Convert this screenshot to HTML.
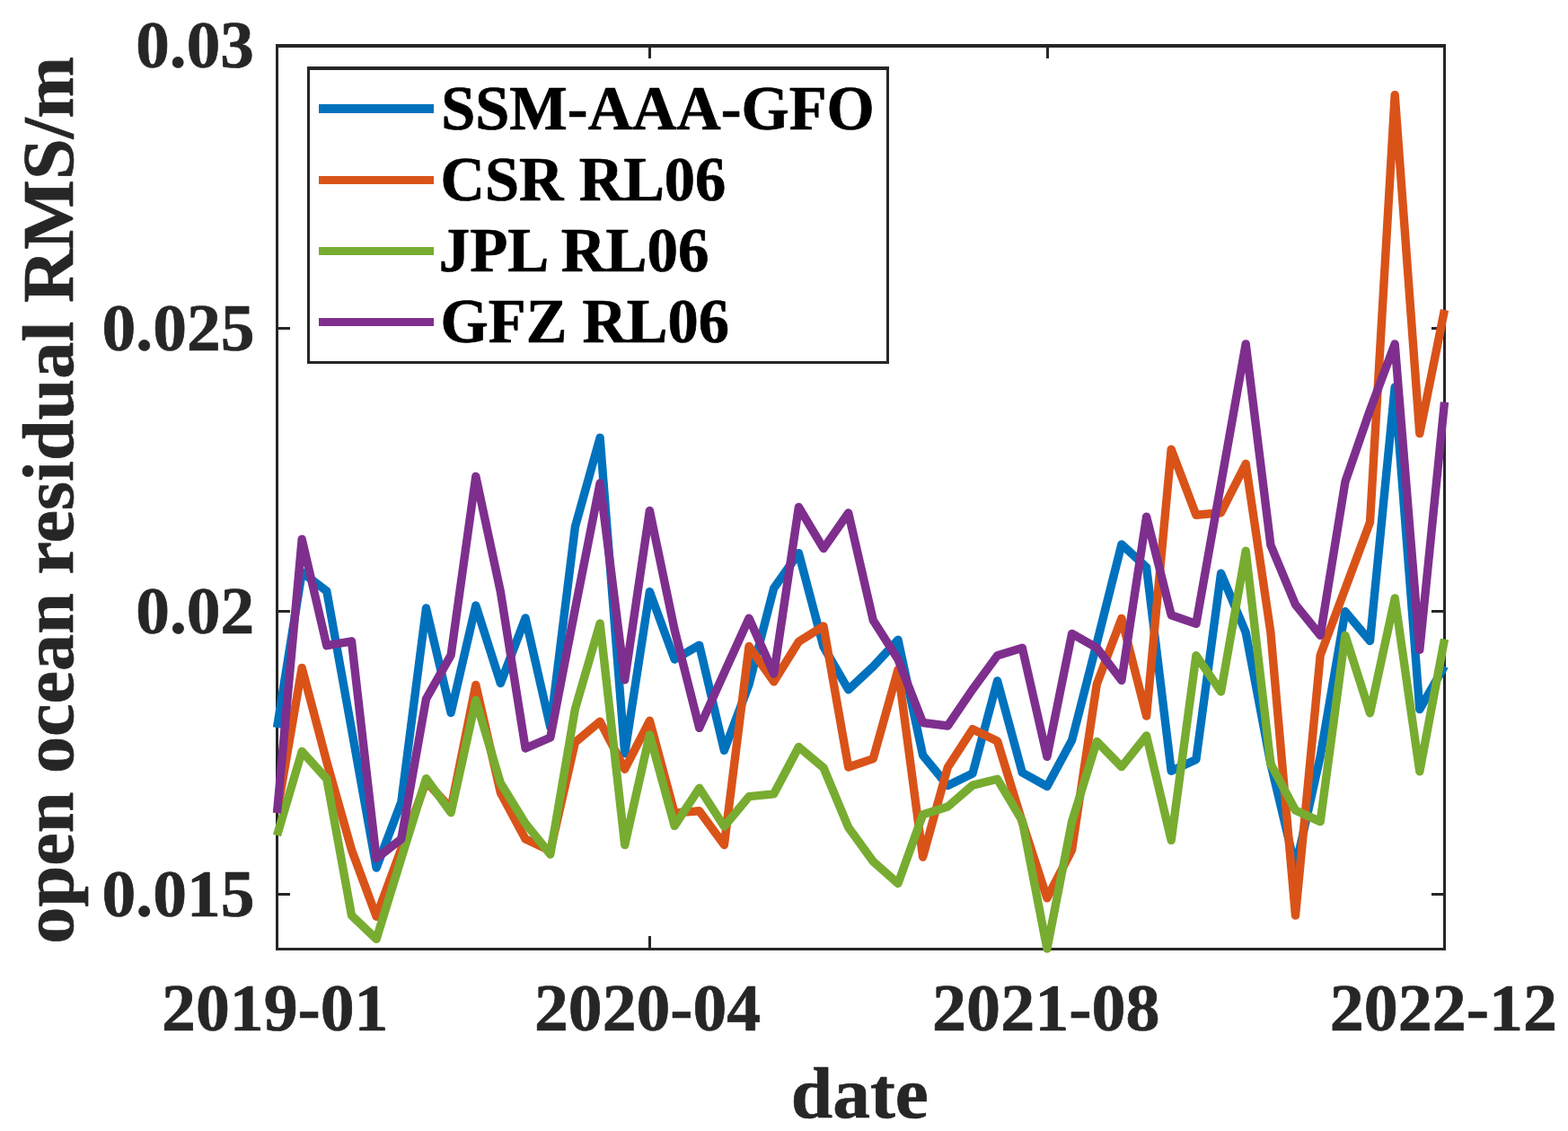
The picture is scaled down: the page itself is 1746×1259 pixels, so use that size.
<!DOCTYPE html>
<html lang="en">
<head>
<meta charset="utf-8">
<title>open ocean residual RMS</title>
<style>
html,body{margin:0;padding:0;background:#fff;}
body{width:1746px;height:1259px;overflow:hidden;}
svg{display:block;}
svg text{font-family:"Liberation Serif","Times New Roman",Times,serif;font-weight:bold;white-space:pre;stroke-width:0.7px;stroke-linejoin:round;}
</style>
</head>
<body>
<svg width="1746" height="1259" viewBox="0 0 1746 1259">
<rect x="0" y="0" width="1746" height="1259" fill="#fff"/>
<g shape-rendering="crispEdges"><rect x="307" y="49" width="1303" height="4" fill="#262626"/><rect x="307" y="1055" width="1303" height="3" fill="#262626"/><rect x="307" y="49" width="3" height="1009" fill="#262626"/><rect x="1607" y="49" width="3" height="1009" fill="#262626"/><rect x="307" y="364" width="16" height="3" fill="#262626"/><rect x="1594" y="364" width="16" height="3" fill="#262626"/><rect x="307" y="679" width="16" height="3" fill="#262626"/><rect x="1594" y="679" width="16" height="3" fill="#262626"/><rect x="307" y="994" width="16" height="3" fill="#262626"/><rect x="1594" y="994" width="16" height="3" fill="#262626"/><rect x="722" y="1042" width="3" height="16" fill="#262626"/><rect x="722" y="49" width="3" height="16" fill="#262626"/><rect x="1165" y="1042" width="3" height="16" fill="#262626"/><rect x="1165" y="49" width="3" height="16" fill="#262626"/></g>
<text transform="translate(151.30 75.22) scale(1.0016 0.9894)" font-size="75" fill="#262626" stroke="#262626">0.03</text>
<text transform="translate(113.48 390.22) scale(1.0076 0.9894)" font-size="75" fill="#262626" stroke="#262626">0.025</text>
<text transform="translate(151.29 705.22) scale(1.0056 0.9894)" font-size="75" fill="#262626" stroke="#262626">0.02</text>
<text transform="translate(113.48 1020.22) scale(1.0076 0.9894)" font-size="75" fill="#262626" stroke="#262626">0.015</text>
<text transform="translate(180.02 1146.80) scale(1.0101 1.0010)" font-size="75" fill="#262626" stroke="#262626">2019-01</text>
<text transform="translate(595.03 1146.80) scale(1.0083 1.0010)" font-size="75" fill="#262626" stroke="#262626">2020-04</text>
<text transform="translate(1038.11 1146.80) scale(1.0139 1.0010)" font-size="75" fill="#262626" stroke="#262626">2021-08</text>
<text transform="translate(1480.82 1146.80) scale(1.0125 1.0010)" font-size="75" fill="#262626" stroke="#262626">2022-12</text>
<text transform="translate(880.77 1244.13) scale(1.0116 0.9700)" font-size="82.5" fill="#262626" stroke="#262626">date</text>
<text transform="translate(80.8 1050.74) rotate(-90) scale(0.9971 0.985)" font-size="82.5" fill="#262626" stroke="#262626">open ocean residual RMS/m</text>
<polyline points="308.5,810.0 336.2,637.0 363.8,658.0 391.5,812.0 419.1,966.0 446.8,893.0 474.5,677.0 502.1,793.5 529.8,674.0 557.4,760.5 585.1,688.0 612.8,809.5 640.4,586.6 668.1,487.2 695.7,838.7 723.4,658.6 751.1,734.0 778.7,718.2 806.4,835.4 834.0,762.0 861.7,654.7 889.4,615.7 917.0,720.0 944.7,767.7 972.3,742.0 1000.0,712.2 1027.6,840.7 1055.3,874.4 1083.0,861.0 1110.6,757.9 1138.3,860.0 1165.9,875.4 1193.6,824.1 1221.3,716.0 1248.9,606.0 1276.6,631.4 1304.2,858.2 1331.9,845.5 1359.6,638.2 1387.2,704.0 1414.9,850.0 1442.5,966.0 1470.2,842.0 1497.9,680.7 1525.5,713.5 1553.2,431.0 1580.8,789.6 1608.5,741.5" fill="none" stroke="#0072BD" stroke-width="9.4" stroke-linejoin="round" stroke-linecap="butt"/>
<polyline points="308.5,905.0 336.2,743.4 363.8,848.0 391.5,946.0 419.1,1020.3 446.8,945.0 474.5,870.0 502.1,900.0 529.8,762.4 557.4,882.5 585.1,934.0 612.8,947.0 640.4,826.3 668.1,803.2 695.7,856.2 723.4,802.3 751.1,905.0 778.7,902.7 806.4,940.6 834.0,719.5 861.7,758.8 889.4,714.3 917.0,697.0 944.7,854.0 972.3,844.6 1000.0,745.3 1027.6,954.0 1055.3,854.3 1083.0,811.7 1110.6,825.0 1138.3,915.0 1165.9,999.8 1193.6,946.0 1221.3,761.6 1248.9,688.4 1276.6,797.0 1304.2,500.1 1331.9,573.3 1359.6,570.7 1387.2,516.3 1414.9,704.0 1442.5,1019.1 1470.2,729.4 1497.9,655.4 1525.5,581.4 1553.2,105.6 1580.8,482.6 1608.5,345.0" fill="none" stroke="#D95319" stroke-width="9.4" stroke-linejoin="round" stroke-linecap="butt"/>
<polyline points="308.5,930.0 336.2,836.5 363.8,867.0 391.5,1019.0 419.1,1045.4 446.8,955.5 474.5,866.6 502.1,904.6 529.8,779.4 557.4,871.8 585.1,916.6 612.8,951.0 640.4,789.3 668.1,694.0 695.7,940.6 723.4,817.9 751.1,919.3 778.7,877.3 806.4,920.0 834.0,886.7 861.7,883.8 889.4,831.5 917.0,854.6 944.7,921.0 972.3,959.0 1000.0,983.5 1027.6,906.8 1055.3,898.0 1083.0,874.1 1110.6,867.3 1138.3,913.7 1165.9,1056.0 1193.6,914.6 1221.3,825.4 1248.9,853.6 1276.6,819.0 1304.2,935.4 1331.9,729.7 1359.6,770.0 1387.2,613.3 1414.9,850.4 1442.5,902.0 1470.2,914.6 1497.9,707.3 1525.5,793.7 1553.2,665.9 1580.8,858.8 1608.5,711.5" fill="none" stroke="#77AC30" stroke-width="9.4" stroke-linejoin="round" stroke-linecap="butt"/>
<polyline points="308.5,905.0 336.2,600.2 363.8,718.7 391.5,713.8 419.1,955.5 446.8,934.0 474.5,778.0 502.1,729.4 529.8,530.3 557.4,659.0 585.1,833.0 612.8,821.0 640.4,678.0 668.1,537.8 695.7,756.9 723.4,568.4 751.1,701.0 778.7,810.4 806.4,749.0 834.0,688.2 861.7,750.0 889.4,564.5 917.0,610.6 944.7,571.0 972.3,690.5 1000.0,734.0 1027.6,804.5 1055.3,808.0 1083.0,767.4 1110.6,729.8 1138.3,721.2 1165.9,842.3 1193.6,705.4 1221.3,721.2 1248.9,757.4 1276.6,575.2 1304.2,684.7 1331.9,694.4 1359.6,538.4 1387.2,382.9 1414.9,606.7 1442.5,673.0 1470.2,707.3 1497.9,536.4 1525.5,456.6 1553.2,382.9 1580.8,723.3 1608.5,447.6" fill="none" stroke="#7E2F8E" stroke-width="9.4" stroke-linejoin="round" stroke-linecap="butt"/>
<g shape-rendering="crispEdges"><rect x="342" y="74" width="648" height="331" fill="#262626"/><rect x="345" y="78" width="642" height="324" fill="#fff"/></g>
<g shape-rendering="crispEdges"><rect x="355" y="116" width="128" height="10" fill="#0072BD"/></g>
<text transform="translate(491.31 143.85) scale(1.0130 1.0457)" font-size="67.5" fill="#000" stroke="#000">SSM-AAA-GFO</text>
<g shape-rendering="crispEdges"><rect x="355" y="196" width="128" height="9" fill="#D95319"/></g>
<text transform="translate(490.56 223.06) scale(1.0149 1.0400)" font-size="67.5" fill="#000" stroke="#000">CSR RL06</text>
<g shape-rendering="crispEdges"><rect x="355" y="275" width="128" height="9" fill="#77AC30"/></g>
<text transform="translate(488.79 302.47) scale(1.0210 1.0270)" font-size="67.5" fill="#000" stroke="#000">JPL RL06</text>
<g shape-rendering="crispEdges"><rect x="355" y="354" width="128" height="9" fill="#7E2F8E"/></g>
<text transform="translate(490.56 381.37) scale(1.0143 1.0335)" font-size="67.5" fill="#000" stroke="#000">GFZ RL06</text>
</svg>
</body>
</html>
